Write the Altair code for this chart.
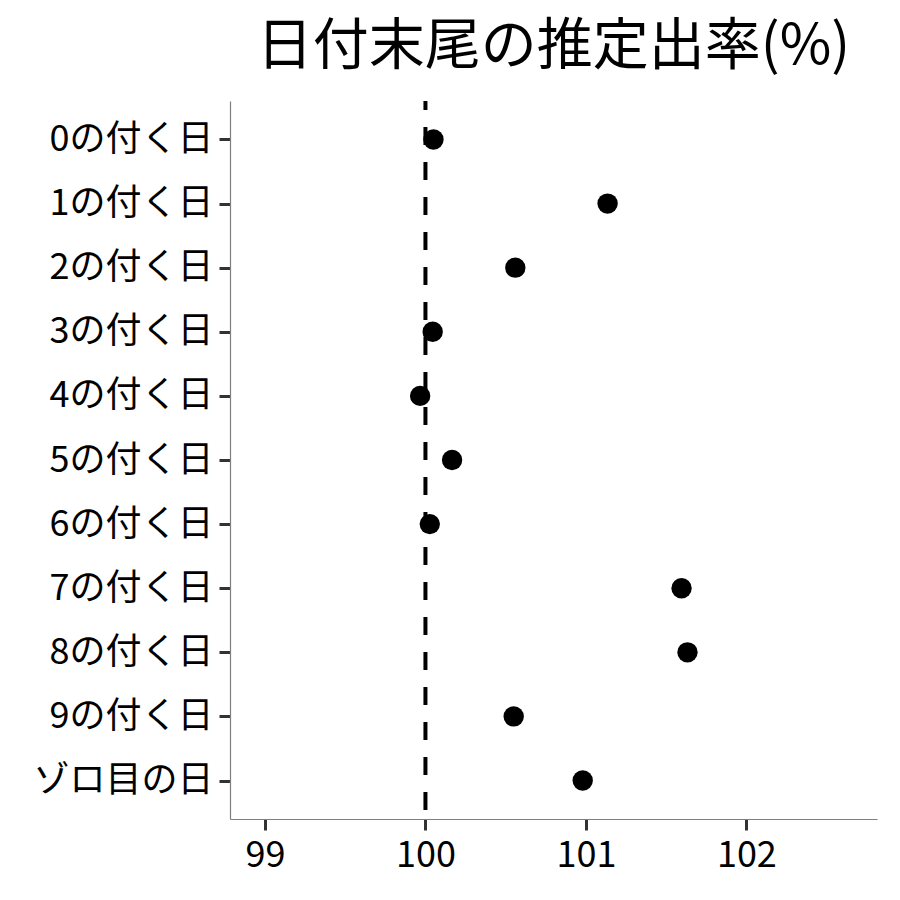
import altair as alt
import pandas as pd

categories = ["0の付く日", "1の付く日", "2の付く日", "3の付く日", "4の付く日",
              "5の付く日", "6の付く日", "7の付く日", "8の付く日", "9の付く日", "ゾロ目の日"]
values = [100.05, 101.135, 100.56, 100.045, 99.967, 100.166, 100.027, 101.596, 101.633, 100.55, 100.98]
x_ticks = [99, 100, 101, 102]
ref_value = [100]

df = pd.DataFrame({"cat": categories, "val": values})
ref = pd.DataFrame({"v": ref_value})

FONT = "Noto Sans CJK JP"

xscale = alt.Scale(domain=[98.782, 102.814], nice=False, zero=False)

points = alt.Chart(df).mark_circle(size=415, color="black", opacity=1).encode(
    x=alt.X("val:Q", scale=xscale, title=None,
            axis=alt.Axis(values=x_ticks, format="d", grid=False, labelFontSize=36, labelFont=FONT,
                          labelColor="black", labelPadding=8, tickSize=11, tickWidth=3,
                          tickColor="#333333", domainColor="#7f7f7f", domainWidth=1.2)),
    y=alt.Y("cat:N", sort=categories, title=None,
            scale=alt.Scale(type="point", padding=0.6),
            axis=alt.Axis(grid=False, labelFontSize=36, labelFont=FONT, labelColor="black",
                          labelLimit=400, labelPadding=6, tickSize=11, tickWidth=3,
                          tickColor="#333333", domainColor="#7f7f7f", domainWidth=1.2)),
)

rule = alt.Chart(ref).mark_rule(color="black", strokeWidth=4, strokeDash=[18, 17],
                                strokeDashOffset=9).encode(
    x=alt.X("v:Q", scale=xscale),
)

chart = alt.layer(rule, points).properties(
    width=647, height=718,
    autosize=alt.AutoSizeParams(type="none"),
    padding={"left": 222, "top": 93, "right": 15, "bottom": 60},
    title=alt.TitleParams("日付末尾の推定出率(%)", fontSize=56, font=FONT, fontWeight="normal",
                          color="black", anchor="middle", offset=23),
).configure_view(stroke=None)

chart.save("out.html", embed_options={"renderer": "svg", "actions": False})
